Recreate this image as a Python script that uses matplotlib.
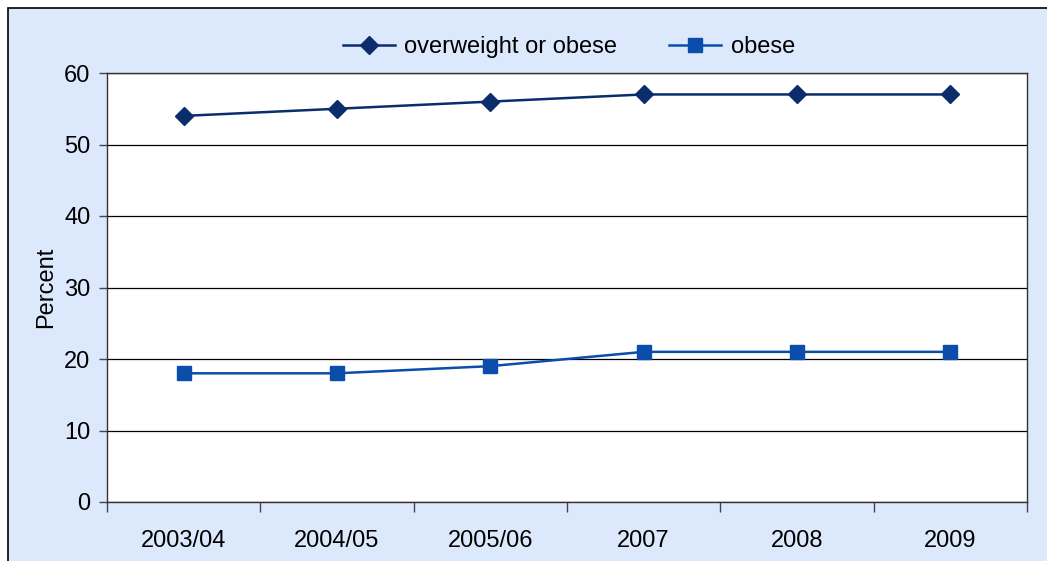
import matplotlib.pyplot as plt
from matplotlib.patches import Rectangle

plt.rcParams['font.family'] = ['Liberation Sans', 'DejaVu Sans']

periods = ["2003/04", "2004/05", "2005/06", "2007", "2008", "2009"]
overweight_or_obese = [54, 55, 56, 57, 57, 57]
obese = [18, 18, 19, 21, 21, 21]

W, H = 1047, 561
FS = 17
fig = plt.figure(figsize=(W / 100, H / 100), dpi=100)
fig.patch.set_facecolor("white")

# light blue chart area with border on top/left (right/bottom cut off)
fig.add_artist(Rectangle((8 / W, -0.1), 1.2, (H - 8) / H + 0.1,
                         transform=fig.transFigure, facecolor="#DCE9FC",
                         edgecolor="black", linewidth=1.2, zorder=0))

ax = fig.add_axes([107 / W, (H - 502) / H, (1027 - 107) / W, (502 - 73) / H])
ax.set_facecolor("white")

x = range(len(periods))
ax.plot(x, overweight_or_obese, color="#0B2D6B", marker="D", markersize=9,
        linewidth=1.8, label="overweight or obese", zorder=3)
ax.plot(x, obese, color="#0A4DAA", marker="s", markersize=10,
        linewidth=1.8, label="obese", zorder=3)

ax.set_xlim(-0.5, len(periods) - 0.5)
ax.set_ylim(0, 60)
ax.set_yticks(range(0, 61, 10))
ax.grid(axis="y", color="black", linewidth=0.9)
ax.set_axisbelow(True)

ax.set_xticks([i - 0.5 for i in range(len(periods) + 1)])
ax.set_xticklabels([])
ax.set_xticks(list(x), minor=True)
ax.set_xticklabels(periods, minor=True, fontsize=FS)
ax.tick_params(axis="x", which="major", length=7, width=1, color="#444444")
ax.tick_params(axis="x", which="minor", length=0, pad=20)
ax.tick_params(axis="y", length=6, width=1, color="#444444", labelsize=FS, pad=6)

for s in ax.spines.values():
    s.set_color("#333333")
    s.set_linewidth(1)

ax.set_ylabel("Percent", fontsize=FS, labelpad=5)

fig.legend(loc="center", bbox_to_anchor=(569 / W, 1 - 47 / H), ncol=2,
           frameon=False, fontsize=FS, handlelength=2.2, columnspacing=2.2,
           handletextpad=0.4)

fig.savefig("out.png", dpi=100)
